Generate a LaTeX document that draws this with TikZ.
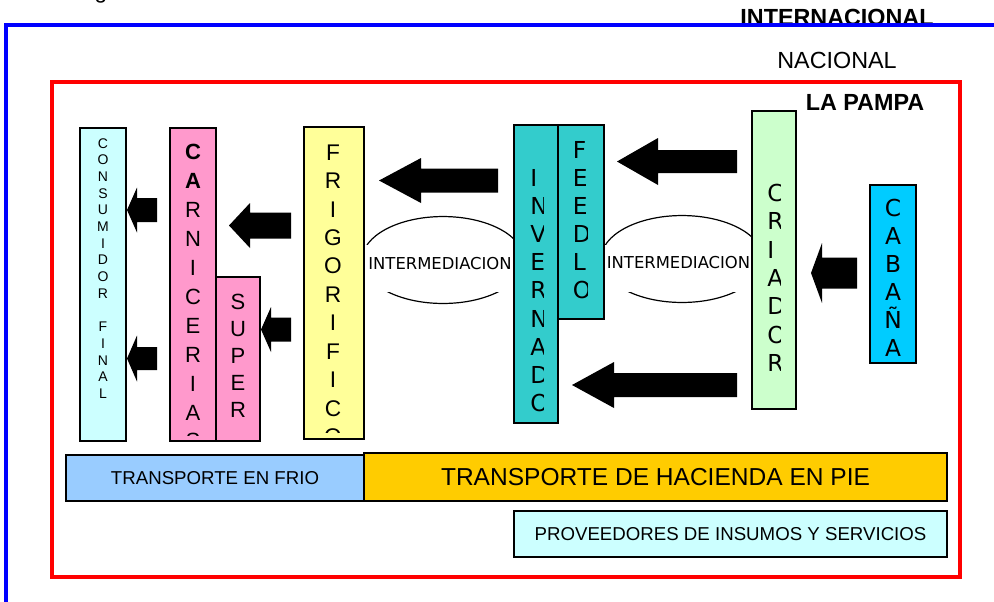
\documentclass[tikz,border=0pt]{standalone}
\usepackage{fontspec}
\setmainfont{Liberation Sans}
\newfontfamily\dvs{DejaVu Sans}
\definecolor{consc}{HTML}{CCFFFF}
\definecolor{pinkc}{HTML}{FF99CC}
\definecolor{yelc}{HTML}{FFFF99}
\definecolor{tealc}{HTML}{33CCCC}
\definecolor{greenc}{HTML}{CCFFCC}
\definecolor{cabc}{HTML}{00CCFF}
\definecolor{frioc}{HTML}{99CCFF}
\definecolor{goldc}{HTML}{FFCC00}
\definecolor{bluec}{HTML}{0000FF}
\definecolor{redc}{HTML}{FF0000}
% vertical letters: anchor, x, first baseline y, step, font, list
\newcommand\vlet[6]{\foreach \ch [count=\i from 0] in {#6} {\node[anchor=#1, inner sep=0pt, font=#5] at (#2, {#3+\i*#4}) {\ch};}}
% block arrow pointing left: tip x, centre y, head base x, head half height, shaft half height, tail x
\newcommand\blockarrow[6]{\fill[black] (#6,{#2-#5}) -- (#3,{#2-#5}) -- (#3,{#2-#4}) -- (#1,#2) -- (#3,{#2+#4}) -- (#3,{#2+#5}) -- (#6,{#2+#5}) -- cycle;}
% box node: name, x1, y1, x2, y2, colour, text
\newcommand\boxnode[7]{\node[boxst, fill=#6, minimum width={(#4-#2)*0.75pt}, minimum height={(#5-#3)*0.75pt}] (#1) at ({(#2+#4)/2},{(#3+#5)/2}) {#7};}
\begin{document}
\begin{tikzpicture}[x=0.75pt,y=-0.75pt,
  boxst/.style={draw=black, line width=1.5pt, inner sep=0pt},
  ell/.style={draw=black, line width=0.9pt}]
\useasboundingbox (0,0) rectangle (994,601);
% top labels and frames
\node[inner sep=0pt, anchor=base, font=\fontsize{17}{18}\selectfont] (gfrag) at (101,-2) {g};
\node[inner sep=0pt, font=\bfseries\fontsize{17.5}{18}\selectfont] (intl) at (837,17.5) {INTERNACIONAL};
\draw[bluec, line width=3pt] (6,620) -- (6,25) -- (1010,25);
\node[inner sep=0pt, font=\fontsize{17.5}{18}\selectfont] (nac) at (837,60.5) {NACIONAL};
\draw[redc, line width=2.3pt] (52,82) rectangle (960,577);
\node[inner sep=0pt, font=\bfseries\fontsize{17.5}{18}\selectfont] (pampa) at (865,102) {LA PAMPA};
% intermediation ellipses
\draw[ell] (443,260) ellipse [x radius=60.75pt, y radius=32.6pt];
\fill[white] (360,245) rectangle (526,292);
\node[inner sep=0pt, font=\dvs\fontsize{12.3}{13}\selectfont] (im1) at (440,264) {INTERMEDIACION};
\draw[ell] (682,259) ellipse [x radius=60.75pt, y radius=32.6pt];
\fill[white] (598,245) rectangle (766,292);
\node[inner sep=0pt, font=\dvs\fontsize{12.3}{13}\selectfont] (im2) at (678.5,263) {INTERMEDIACION};
% consumidor final
\boxnode{cons}{80}{128}{126}{441}{consc}{}
\vlet{base}{103}{148}{16.7}{\fontsize{10.5}{11}\selectfont}{C,O,N,S,U,M,I,D,O,R,{},F,I,N,A,L}
% carnicerias
\boxnode{carn}{170}{128}{216}{441}{pinkc}{}
\begin{scope}
\clip (170,128) rectangle (216,435);
\vlet{base}{193}{159.9}{28.9}{\fontsize{16.5}{17}\selectfont}{\textbf{C},\textbf{A},R,N,I,C,E,R,I,A,S}
\end{scope}
% super
\boxnode{super}{216}{277}{260}{441}{pinkc}{}
\vlet{base}{238}{309.9}{27}{\fontsize{16.5}{17}\selectfont}{S,U,P,E,R}
% frigorifico
\boxnode{frig}{304}{127}{364}{439}{yelc}{}
\begin{scope}
\clip (304,127) rectangle (364,432);
\vlet{base}{333}{160.1}{28.45}{\fontsize{17}{18}\selectfont}{F,R,I,G,O,R,I,F,I,C,O}
\end{scope}
% invernada
\boxnode{inv}{514}{125}{558}{423}{tealc}{}
\begin{scope}
\clip (514,125) rectangle (543,423);
\vlet{base west}{530}{186.5}{28.1}{\dvs\fontsize{17.5}{18}\selectfont}{I,N,V,E,R,N,A,D,O}
\end{scope}
% feedlot
\boxnode{feed}{558}{125}{604}{319}{tealc}{}
\begin{scope}
\clip (558,125) rectangle (587.5,306);
\vlet{base west}{572.5}{158.5}{28}{\dvs\fontsize{17.5}{18}\selectfont}{F,E,E,D,L,O}
\end{scope}
% criador
\boxnode{cria}{752}{111}{796}{409}{greenc}{}
\begin{scope}
\clip (752,111) rectangle (780,409);
\vlet{base west}{767}{201.5}{28.3}{\dvs\fontsize{17.5}{18}\selectfont}{C,R,I,A,D,O,R}
\end{scope}
% cabaña
\boxnode{caba}{870}{185}{916}{363}{cabc}{}
\begin{scope}
\clip (870,185) rectangle (916,356);
\vlet{base}{893}{216.5}{28}{\dvs\fontsize{17.5}{18}\selectfont}{C,A,B,A,Ñ,A}
\end{scope}
% bottom bars
\boxnode{tfrio}{66}{455}{364}{501}{frioc}{\fontsize{14}{15}\selectfont TRANSPORTE EN FRIO}
\boxnode{thac}{364}{453}{947}{501}{goldc}{\fontsize{18.4}{19}\selectfont TRANSPORTE DE HACIENDA EN PIE}
\boxnode{prov}{514}{511}{947}{557}{consc}{\fontsize{14}{15}\selectfont PROVEEDORES DE INSUMOS Y SERVICIOS}
% block arrows
\blockarrow{127}{210}{137}{22.5}{12}{157}
\blockarrow{127}{358.5}{137}{23}{11.5}{157}
\blockarrow{229}{225.5}{250}{22.5}{13}{291}
\blockarrow{261}{329.5}{271}{22.5}{12}{291}
\blockarrow{379}{180.5}{421}{22.5}{12}{498}
\blockarrow{617}{161.5}{658}{23.5}{11.5}{737}
\blockarrow{572}{385}{614}{23}{12}{737}
\blockarrow{811}{273}{822}{30}{15.5}{857}
\end{tikzpicture}
\end{document}
